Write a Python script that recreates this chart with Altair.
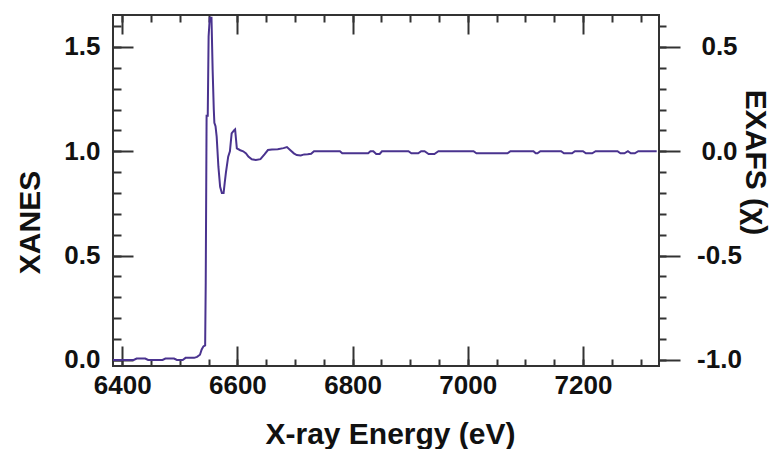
import altair as alt
import pandas as pd

# Spectrum
energy = [6384, 6405, 6420, 6425, 6440, 6445, 6470, 6475, 6490, 6495, 6505, 6510, 6525,
          6530, 6535, 6538, 6541, 6544, 6545, 6546.5, 6548.5, 6550, 6552, 6555, 6557,
          6559, 6560, 6562, 6564, 6567, 6570, 6573, 6576, 6578, 6580, 6584, 6587, 6590,
          6594, 6596, 6597.5, 6599, 6605, 6610, 6615, 6619, 6625, 6632, 6640, 6647,
          6653, 6660, 6670, 6680, 6686, 6692, 6698, 6703, 6710, 6716, 6722, 6728, 6733,
          6778, 6782, 6827, 6831, 6836, 6841, 6847, 6851, 6897, 6902, 6914, 6919, 6925,
          6932, 6942, 6949, 7010, 7015, 7069, 7074, 7114, 7118, 7121, 7126, 7162, 7167,
          7181, 7186, 7200, 7205, 7216, 7222, 7260, 7265, 7272, 7278, 7283, 7290, 7296,
          7328]
xanes = [0.0, 0.0, 0.0, 0.007, 0.007, 0.0, 0.0, 0.007, 0.007, 0.0, 0.0, 0.01, 0.01,
         0.015, 0.025, 0.05, 0.065, 0.07, 0.37, 1.17, 1.17, 1.55, 1.64, 1.64, 1.39,
         1.20, 1.136, 1.12, 1.07, 0.926, 0.83, 0.80, 0.80, 0.85, 0.896, 0.974, 1.0, 1.086,
         1.10, 1.105, 1.06, 1.014, 1.005, 1.0, 0.99, 0.975, 0.962, 0.958, 0.962, 0.985,
         1.006, 1.008, 1.01, 1.015, 1.02, 1.005, 0.99, 0.982, 0.98, 0.985, 0.986, 0.988, 1.0,
         1.0, 0.99, 0.99, 1.0, 1.0, 0.987, 0.987, 1.0, 1.0, 0.99, 0.99, 1.0, 1.0,
         0.987, 0.987, 1.0, 1.0, 0.99, 0.99, 1.0, 1.0, 0.99, 0.99, 1.0, 1.0, 0.99,
         0.99, 1.0, 1.0, 0.99, 0.99, 1.0, 1.0, 0.99, 0.99, 1.0, 0.99, 0.99, 1.0,
         1.0]

# Axis tick values
x_major = [6400, 6600, 6800, 7000, 7200]
x_minor = [6400, 6450, 6500, 6550, 6600, 6650, 6700, 6750, 6800, 6850, 6900, 6950,
           7000, 7050, 7100, 7150, 7200, 7250, 7300]
y_major = [0.0, 0.5, 1.0, 1.5]
y_minor = [0.0, 0.1, 0.2, 0.3, 0.4, 0.5, 0.6, 0.7, 0.8, 0.9, 1.0, 1.1, 1.2, 1.3, 1.4, 1.5, 1.6]
chi_major = [-1.0, -0.5, 0.0, 0.5]
chi_minor = [-1.0, -0.9, -0.8, -0.7, -0.6, -0.5, -0.4, -0.3, -0.2, -0.1, 0.0, 0.1, 0.2,
             0.3, 0.4, 0.5, 0.6]

df = pd.DataFrame({"energy": energy, "xanes": xanes})

x_scale = alt.Scale(domain=[6384, 7332], nice=False, zero=False)
y_scale = alt.Scale(domain=[-0.029, 1.653], nice=False, zero=False)
chi_scale = alt.Scale(domain=[-1.029, 0.653], nice=False, zero=False)

LINE = "#4a338f"
FONT = "Liberation Sans"

base = alt.Chart(df).transform_calculate(chi="datum.xanes - 1")

main = base.mark_line(color=LINE, strokeWidth=2).encode(
    x=alt.X("energy:Q", scale=x_scale,
            axis=alt.Axis(orient="bottom", values=x_major, offset=-20, tickSize=20,
                          labelPadding=6, domain=False, grid=False, labelFlush=False,
                          labelOverlap=False, format="d",
                          title="X-ray Energy (eV)", titleX=277, titleY=97,
                          titleAlign="center", titleBaseline="alphabetic")),
    y=alt.Y("xanes:Q", scale=y_scale,
            axis=alt.Axis(orient="left", values=y_major, offset=-20, tickSize=20,
                          labelPadding=13, domain=False, grid=False, labelFlush=False,
                          labelOverlap=False, format=".1f",
                          title="XANES", titleAngle=-90, titleX=-103, titleY=207,
                          titleAlign="center", titleBaseline="middle")),
)

minor1 = base.mark_line(opacity=0).encode(
    x=alt.X("energy:Q", scale=x_scale,
            axis=alt.Axis(orient="bottom", values=x_minor, offset=-7, tickSize=7,
                          labels=False, domain=False, grid=False, title="")),
    y=alt.Y("xanes:Q", scale=y_scale,
            axis=alt.Axis(orient="left", values=y_minor, offset=-8, tickSize=8,
                          labels=False, domain=False, grid=False, title="")),
)

right_major = base.mark_line(opacity=0).encode(
    x=alt.X("energy:Q", scale=x_scale,
            axis=alt.Axis(orient="top", values=x_major, offset=-19, tickSize=19,
                          labels=False, domain=False, grid=False, title="")),
    y=alt.Y("chi:Q", scale=chi_scale,
            axis=alt.Axis(orient="right", values=chi_major, tickSize=21,
                          labelPadding=39, labelAlign="center", domain=False, grid=False,
                          labelFlush=False, labelOverlap=False,
                          labelExpr="datum.value < 0 ? '-' + format(-datum.value, '.1f') : format(datum.value, '.1f')",
                          title="EXAFS (χ)", titleAngle=90, titleX=95, titleY=147,
                          titleAlign="center", titleBaseline="middle")),
)

right_minor = base.mark_line(opacity=0).encode(
    x=alt.X("energy:Q", scale=x_scale,
            axis=alt.Axis(orient="top", values=x_minor, offset=-7, tickSize=7,
                          labels=False, domain=False, grid=False, title="")),
    y=alt.Y("chi:Q", scale=chi_scale,
            axis=alt.Axis(orient="right", values=chi_minor, tickSize=7,
                          labels=False, domain=False, grid=False, title="")),
)

chart = alt.layer(main, minor1, right_major, right_minor).resolve_scale(
    x="independent", y="independent"
).properties(
    width=546, height=351,
    autosize=alt.AutoSizeParams(type="none"),
    padding={"left": 105, "top": 7, "right": 114, "bottom": 83},
    background="white",
).configure_view(
    stroke="#333333", strokeWidth=2
).configure_axis(
    labelFont=FONT, labelFontSize=26, labelFontWeight="bold", labelColor="#111111",
    titleFont=FONT, titleFontSize=30, titleFontWeight="bold", titleColor="#111111",
    tickColor="#333333", tickWidth=2,
)

chart.save("out.html", embed_options={"renderer": "svg", "actions": False})
